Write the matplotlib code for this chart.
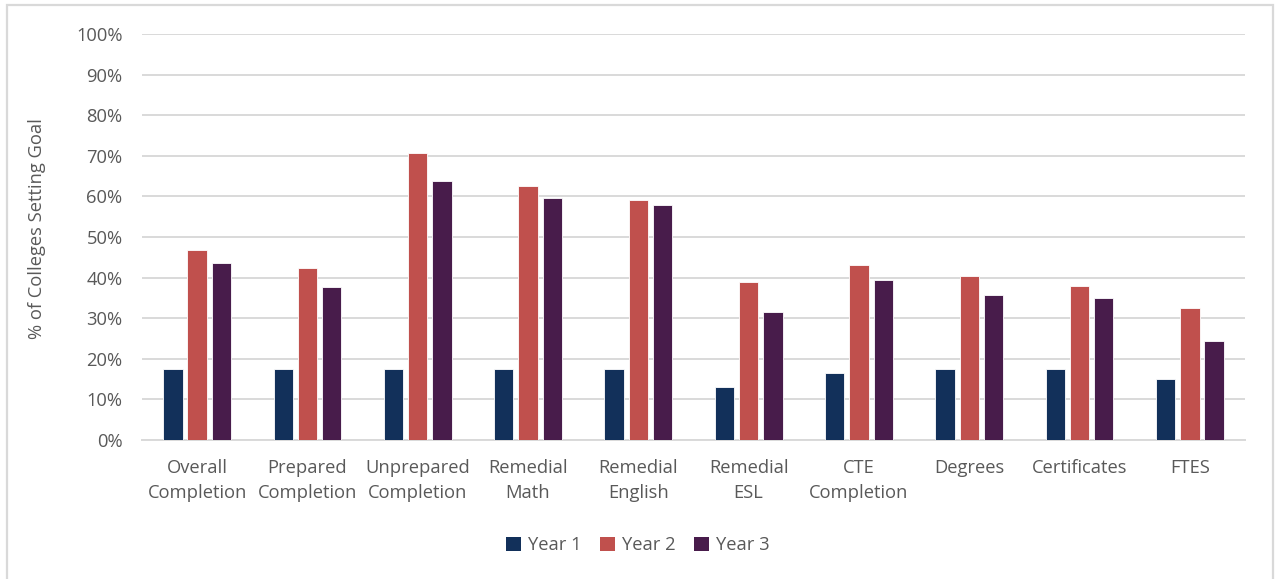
import matplotlib
matplotlib.use("Agg")
import matplotlib.pyplot as plt
from matplotlib.patches import Rectangle, Patch
from matplotlib.ticker import PercentFormatter, MultipleLocator
import numpy as np

categories = [
    "Overall\nCompletion", "Prepared\nCompletion", "Unprepared\nCompletion",
    "Remedial\nMath", "Remedial\nEnglish", "Remedial\nESL", "CTE\nCompletion",
    "Degrees", "Certificates", "FTES",
]
series_names = ["Year 1", "Year 2", "Year 3"]
year1 = [17.6, 17.6, 17.6, 17.6, 17.6, 13.1, 16.6, 17.6, 17.6, 15.0]
year2 = [46.8, 42.4, 70.6, 62.6, 59.1, 38.8, 43.2, 40.5, 37.9, 32.5]
year3 = [43.7, 37.7, 63.8, 59.5, 57.8, 31.5, 39.3, 35.8, 34.9, 24.4]
colors = ["#12305A", "#C0504D", "#481C4B"]

plt.rcParams["font.family"] = ["Open Sans", "DejaVu Sans"]
text_gray = "#595959"
grid_gray = "#D9D9D9"
fs = 13.2

fig = plt.figure(figsize=(12.76, 5.79), dpi=100)
ax = fig.add_axes([142 / 1276, 1 - 440 / 579, (1245 - 142) / 1276, (440 - 34) / 579])

x = np.arange(len(categories))
offsets = [-0.22, 0.0, 0.22]
width = 0.175
for vals, off, c, name in zip([year1, year2, year3], offsets, colors, series_names):
    ax.bar(x + off, vals, width=width, color=c, edgecolor="white",
           linewidth=0.6, label=name, zorder=3)

ax.set_xlim(-0.5, len(categories) - 0.5)
ax.set_ylim(0, 100)
ax.yaxis.set_major_locator(MultipleLocator(10))
ax.yaxis.set_major_formatter(PercentFormatter(decimals=0))
ax.grid(axis="y", color=grid_gray, linewidth=1.4, zorder=0)
ax.set_axisbelow(True)
for s in ["top", "right", "left"]:
    ax.spines[s].set_visible(False)
ax.spines["bottom"].set_color(grid_gray)
ax.spines["bottom"].set_linewidth(1.4)

ax.set_xticks(x)
ax.set_xticklabels(categories, fontsize=fs, color=text_gray, linespacing=1.45)
ax.tick_params(axis="x", length=0, pad=14)
ax.tick_params(axis="y", length=0, pad=14, labelsize=fs, labelcolor=text_gray)

fig.text(37 / 1276, 1 - 229 / 579, "% of Colleges Setting Goal", rotation=90,
         ha="center", va="center", fontsize=fs, color=text_gray)

handles = [Patch(facecolor=c, edgecolor="none") for c in colors]
fig.legend(handles, series_names, loc="center", bbox_to_anchor=(0.5, 1 - 545 / 579),
           ncol=3, frameon=False, fontsize=fs, labelcolor=text_gray,
           handlelength=0.8, handleheight=0.8, handletextpad=0.4, columnspacing=1.0)

# chart area border
fig.patches.append(Rectangle((7 / 1276, -0.05), (1273 - 7) / 1276, 1.05 - 5 / 579,
                             transform=fig.transFigure, fill=False,
                             edgecolor=grid_gray, linewidth=1.6, clip_on=False))

fig.savefig("out.png", dpi=100, facecolor="white")
